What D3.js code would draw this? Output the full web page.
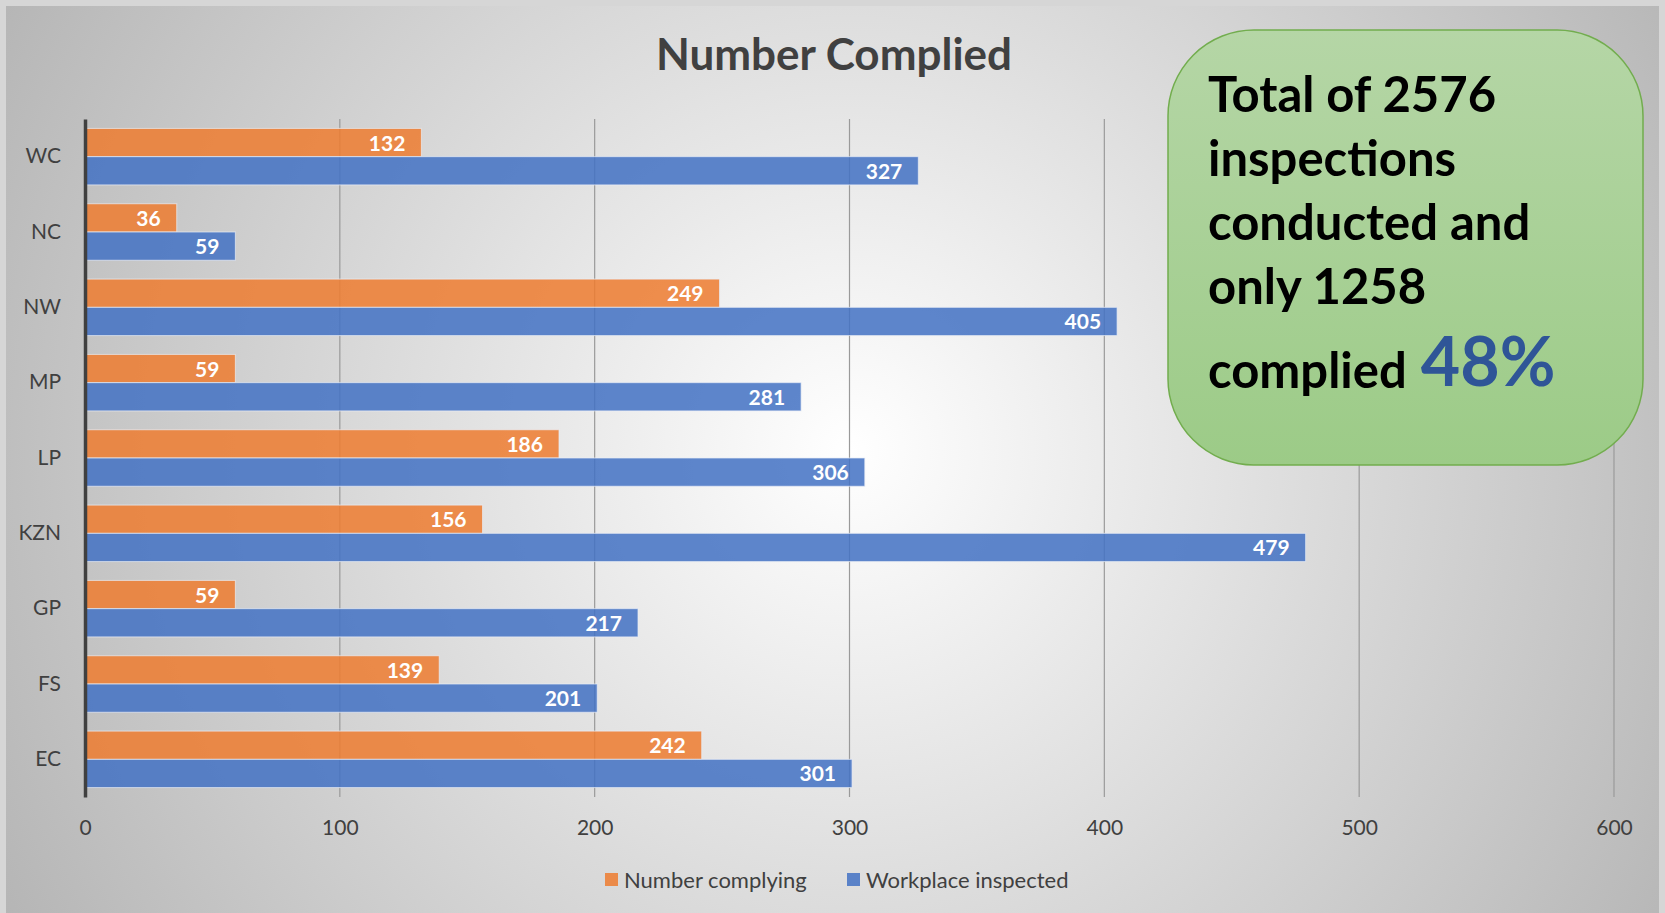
<!DOCTYPE html>
<html>
<head>
<meta charset="utf-8">
<script src="https://cdn.jsdelivr.net/npm/d3@7"></script>
<style>
  html, body { margin: 0; padding: 0; background: #fff; }
  svg { display: block; font-family: Lato, "Open Sans", sans-serif; }
</style>
</head>
<body>
<div id="chart"></div>
<script>
// Chart data
const categories = ["WC", "NC", "NW", "MP", "LP", "KZN", "GP", "FS", "EC"];
const seriesNames = ["Number complying", "Workplace inspected"];
const numberComplying = [132, 36, 249, 59, 186, 156, 59, 139, 242];
const workplaceInspected = [327, 59, 405, 281, 306, 479, 217, 201, 301];
const xTicks = [0, 100, 200, 300, 400, 500, 600];
const calloutLines = ["Total of 2576", "inspections", "conducted and", "only 1258", "complied"];
const calloutPct = "48%";

const width = 1665, height = 913;
const colors = ["#ED7D31", "#4472C4"];

const svg = d3.select("#chart").append("svg")
    .attr("width", width)
    .attr("height", height);

// background gradient
const defs = svg.append("defs");
const bg = defs.append("radialGradient")
    .attr("id", "bg")
    .attr("gradientUnits", "userSpaceOnUse")
    .attr("cx", 850).attr("cy", 450).attr("r", 980);
bg.append("stop").attr("offset", "0%").attr("stop-color", "#ffffff");
bg.append("stop").attr("offset", "100%").attr("stop-color", "#b4b4b4");

const boxGrad = defs.append("linearGradient")
    .attr("id", "boxGrad")
    .attr("x1", 0).attr("y1", 0).attr("x2", 0).attr("y2", 1);
boxGrad.append("stop").attr("offset", "0%").attr("stop-color", "#b5d6a6");
boxGrad.append("stop").attr("offset", "100%").attr("stop-color", "#9ccb87");

svg.append("rect").attr("width", width).attr("height", height).attr("fill", "#d6d6d6");
svg.append("rect")
    .attr("x", 6).attr("y", 6)
    .attr("width", width - 12).attr("height", height - 6)
    .attr("fill", "url(#bg)");

// scales
const x = d3.scaleLinear().domain([0, 600]).range([85, 1614]);
const y = d3.scaleBand().domain(categories).range([119, 797])
    .paddingInner(0.25).paddingOuter(0.125);
const ySub = d3.scaleBand().domain(seriesNames).range([0, y.bandwidth()]);

// gridlines
svg.append("g")
    .selectAll("line")
    .data(xTicks.slice(1))
    .join("line")
    .attr("x1", d => x(d)).attr("x2", d => x(d))
    .attr("y1", 119).attr("y2", 797)
    .attr("stroke", "#9a9a9a")
    .attr("stroke-width", 1.2);

// x axis labels
const xAxis = svg.append("g")
    .attr("transform", "translate(0,797)")
    .call(d3.axisBottom(x).tickValues(xTicks).tickSize(0).tickPadding(23));
xAxis.select(".domain").remove();
xAxis.selectAll("text")
    .attr("font-family", "Lato, sans-serif")
    .attr("font-size", 21)
    .attr("fill", "#404040");

// bars
const rows = categories.map((c, i) => ({
    cat: c,
    vals: [
        {series: seriesNames[0], value: numberComplying[i], color: colors[0]},
        {series: seriesNames[1], value: workplaceInspected[i], color: colors[1]}
    ]
}));

const groups = svg.append("g")
    .selectAll("g")
    .data(rows)
    .join("g")
    .attr("transform", d => `translate(0,${y(d.cat)})`);

groups.selectAll("rect")
    .data(d => d.vals)
    .join("rect")
    .attr("x", x(0))
    .attr("y", d => ySub(d.series))
    .attr("width", d => x(d.value) - x(0))
    .attr("height", ySub.bandwidth())
    .attr("fill", d => d.color)
    .attr("fill-opacity", 0.86)
    .attr("stroke", "#e9eef7")
    .attr("stroke-opacity", 0.7)
    .attr("stroke-width", 1);

groups.selectAll("text")
    .data(d => d.vals)
    .join("text")
    .attr("x", d => x(d.value) - 16)
    .attr("y", d => ySub(d.series) + ySub.bandwidth() / 2)
    .attr("dy", "0.38em")
    .attr("text-anchor", "end")
    .attr("font-family", "Lato, sans-serif")
    .attr("font-weight", "bold")
    .attr("font-size", 21)
    .attr("fill", "#ffffff")
    .text(d => d.value);

// y axis
const yAxis = svg.append("g")
    .attr("transform", `translate(${x(0)},0)`)
    .call(d3.axisLeft(y).tickSize(0).tickPadding(24));
yAxis.select(".domain")
    .attr("stroke", "#404040")
    .attr("stroke-width", 3.5);
yAxis.selectAll("text")
    .attr("font-family", "Lato, sans-serif")
    .attr("font-size", 21)
    .attr("fill", "#404040");

// title
svg.append("text")
    .attr("x", 834)
    .attr("y", 70)
    .attr("text-anchor", "middle")
    .attr("font-family", "Lato, sans-serif")
    .attr("font-weight", "bold")
    .attr("font-size", 44)
    .attr("fill", "#404040")
    .text("Number Complied");

// legend
const legend = svg.append("g").attr("transform", "translate(605,880)");
const legendItems = [
    {name: seriesNames[0], color: colors[0], x: 0},
    {name: seriesNames[1], color: colors[1], x: 242}
];
legendItems.forEach(item => {
    legend.append("rect")
        .attr("x", item.x).attr("y", -7)
        .attr("width", 13).attr("height", 13)
        .attr("fill", item.color)
        .attr("fill-opacity", 0.86);
    legend.append("text")
        .attr("x", item.x + 19).attr("y", 0)
        .attr("dy", "0.35em")
        .attr("font-family", "Lato, sans-serif")
        .attr("font-size", 22)
        .attr("fill", "#404040")
        .text(item.name);
});

// callout box
svg.append("rect")
    .attr("x", 1168).attr("y", 30)
    .attr("width", 475).attr("height", 435)
    .attr("rx", 86).attr("ry", 86)
    .attr("fill", "url(#boxGrad)")
    .attr("stroke", "#72ad4e")
    .attr("stroke-width", 1.5);

const callout = svg.append("g")
    .attr("font-family", "Lato, sans-serif")
    .attr("font-weight", "bold");

callout.selectAll("text.line")
    .data(calloutLines)
    .join("text")
    .attr("class", "line")
    .attr("x", 1208)
    .attr("y", (d, i) => i < 4 ? 112 + i * 64 : 388)
    .attr("font-size", 49)
    .attr("fill", "#000000")
    .text(d => d);

const lastLine = callout.select("text.line:last-of-type").node();
callout.append("text")
    .attr("x", 1208 + lastLine.getComputedTextLength() + 14)
    .attr("y", 386)
    .attr("font-size", 68)
    .attr("fill", "#2F5597")
    .text(calloutPct);
</script>
</body>
</html>
